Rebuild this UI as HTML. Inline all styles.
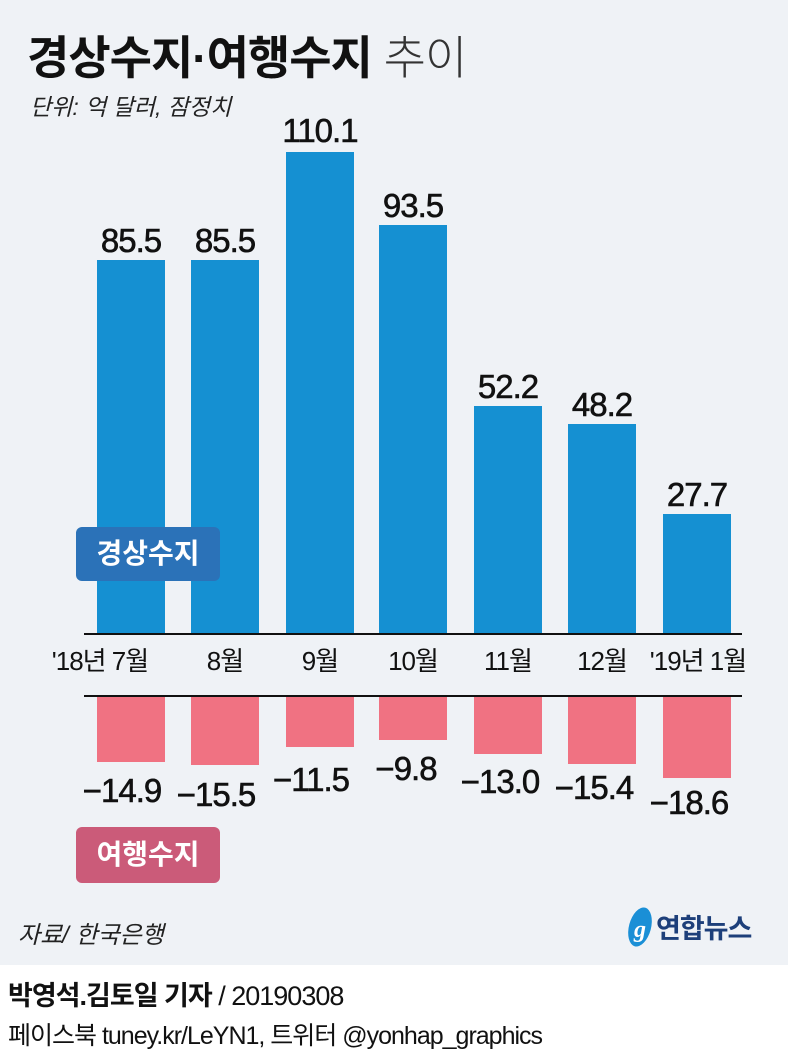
<!DOCTYPE html>
<html><head><meta charset="utf-8"><style>
body{margin:0;width:788px;height:1060px;background:#fff;font-family:"Liberation Sans","Noto Sans CJK KR",sans-serif;overflow:hidden}
.bg{position:absolute;left:0;top:0;width:788px;height:965px;background:#eff2f6}
.a{position:absolute;white-space:nowrap}
.b{position:absolute;width:68px;background:#1590d2}
.r{position:absolute;width:68px;background:#f07282}
.v{position:absolute;width:140px;text-align:center;font-size:33px;line-height:1;color:#111;letter-spacing:-1px;-webkit-text-stroke:0.6px #111}
.m{position:absolute;width:120px;text-align:center;font-size:26px;line-height:1;color:#111;letter-spacing:-1px;top:648px}
</style></head><body>
<div class="bg"></div>
<div class="a" style="left:27px;top:22px;font-size:46px;font-weight:bold;color:#111;letter-spacing:-1px">경상수지·여행수지 <span style="font-weight:300;color:#333">추이</span></div>
<div class="a" style="left:30px;top:88px;font-size:23px;font-style:italic;color:#222">단위: 억 달러, 잠정치</div>

<div class="b" style="left:97px;top:260px;height:374px"></div>
<div class="b" style="left:191px;top:260px;height:374px"></div>
<div class="b" style="left:286px;top:152px;height:482px"></div>
<div class="b" style="left:379px;top:225px;height:409px"></div>
<div class="b" style="left:474px;top:406px;height:228px"></div>
<div class="b" style="left:568px;top:424px;height:210px"></div>
<div class="b" style="left:663px;top:514px;height:120px"></div>

<div class="v" style="left:61px;top:224px">85.5</div>
<div class="v" style="left:155px;top:224px">85.5</div>
<div class="v" style="left:250px;top:114px">110.1</div>
<div class="v" style="left:343px;top:189px">93.5</div>
<div class="v" style="left:438px;top:370px">52.2</div>
<div class="v" style="left:532px;top:388px">48.2</div>
<div class="v" style="left:627px;top:478px">27.7</div>

<div class="a" style="left:84px;top:633px;width:658px;height:2px;background:#111"></div>
<div class="a" style="left:84px;top:695px;width:658px;height:2px;background:#111"></div>

<div class="m" style="left:30px;width:140px">'18년 7월</div>
<div class="m" style="left:165px">8월</div>
<div class="m" style="left:260px">9월</div>
<div class="m" style="left:353px">10월</div>
<div class="m" style="left:448px">11월</div>
<div class="m" style="left:542px">12월</div>
<div class="m" style="left:628px;width:140px">'19년 1월</div>

<div class="r" style="left:97px;top:697px;height:65px"></div>
<div class="r" style="left:191px;top:697px;height:68px"></div>
<div class="r" style="left:286px;top:697px;height:50px"></div>
<div class="r" style="left:379px;top:697px;height:43px"></div>
<div class="r" style="left:474px;top:697px;height:57px"></div>
<div class="r" style="left:568px;top:697px;height:67px"></div>
<div class="r" style="left:663px;top:697px;height:81px"></div>

<div class="v" style="left:52px;top:774px">−14.9</div>
<div class="v" style="left:146px;top:778px">−15.5</div>
<div class="v" style="left:241px;top:763px">−11.5</div>
<div class="v" style="left:336px;top:752px">−9.8</div>
<div class="v" style="left:430px;top:765px">−13.0</div>
<div class="v" style="left:524px;top:771px">−15.4</div>
<div class="v" style="left:619px;top:786px">−18.6</div>

<div class="a" style="left:76px;top:527px;width:144px;height:54px;background:#2b72b8;border-radius:6px;color:#fff;font-size:28px;font-weight:bold;text-align:center;line-height:54px">경상수지</div>
<div class="a" style="left:76px;top:827px;width:144px;height:56px;background:#cb5b79;border-radius:6px;color:#fff;font-size:28px;font-weight:bold;text-align:center;line-height:56px">여행수지</div>

<div class="a" style="left:18px;top:915px;font-size:24px;font-style:italic;color:#222">자료/ 한국은행</div>
<svg class="a" style="left:625px;top:905px" width="30" height="45"><ellipse cx="15" cy="22" rx="11" ry="20" fill="#1a8fd6" transform="rotate(15 15 22)"/><text x="9" y="32" font-size="24" font-style="italic" font-weight="bold" fill="#fff" font-family="Liberation Serif">g</text></svg>
<div class="a" style="left:656px;top:907px;font-size:27px;font-weight:bold;color:#1d3f7a;letter-spacing:-1px">연합뉴스</div>

<div class="a" style="left:8px;top:974px;font-size:27px;color:#111;letter-spacing:-1px"><b>박영석.김토일 기자</b> / 20190308</div>
<div class="a" style="left:8px;top:1016px;font-size:25px;color:#111;letter-spacing:-1px">페이스북 tuney.kr/LeYN1, 트위터 @yonhap_graphics</div>
</body></html>
